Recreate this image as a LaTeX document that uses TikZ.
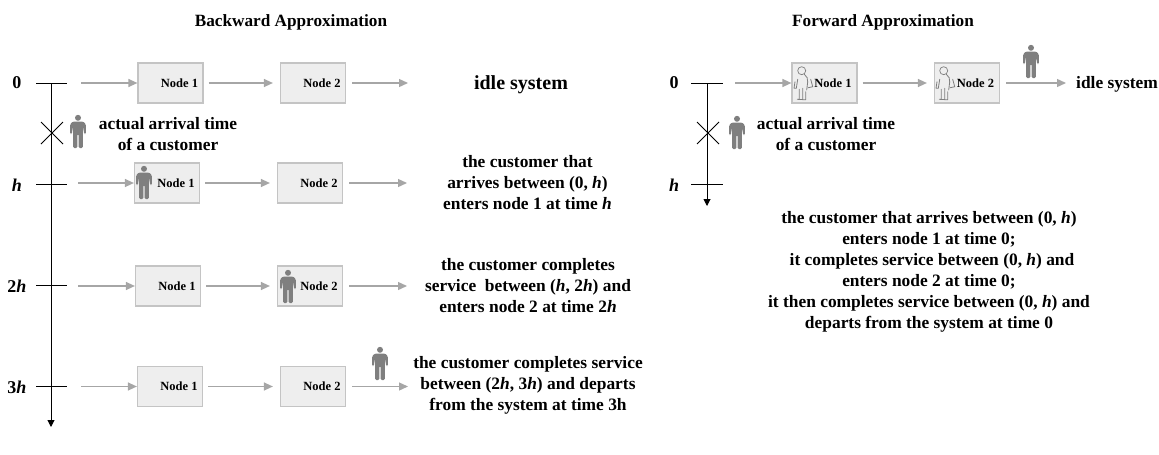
\documentclass[tikz,border=0pt]{standalone}
\usepackage{fontspec}
\setmainfont{Liberation Serif}
\usetikzlibrary{arrows.meta}
\definecolor{flowgray}{HTML}{A6A6A6}
\definecolor{boxfill}{HTML}{EEEEEE}
\definecolor{boxline}{HTML}{C4C4C4}
\definecolor{persongray}{HTML}{7F7F7F}
\newcommand{\bodyfont}{\fontsize{17.4}{21}\selectfont\bfseries}
\tikzset{
  x=1pt,y=-1pt,
  procbox/.style={draw=boxline,fill=boxfill,line width=1.2pt,minimum width=65pt,minimum height=40pt,inner sep=0pt,font=\fontsize{12.5}{14}\selectfont\bfseries,anchor=center},
  flow/.style={draw=flowgray,line width=1.3pt,-{Triangle[length=9pt,width=8pt]}},
  axisline/.style={draw=black,line width=1pt},
  timelabel/.style={font=\fontsize{18}{21}\selectfont\bfseries,inner sep=0pt},
  caption/.style={font=\bodyfont,align=center,inner sep=0pt},
  title/.style={font=\fontsize{17.2}{21}\selectfont\bfseries,inner sep=0pt},
  person/.pic={
    \fill[persongray] (0,2.8) circle (3);
    \fill[persongray,rounded corners=1.2pt] (-5,6.5) -- (-7.8,9) -- (-7.8,19) -- (-6.2,19) -- (-5,11.5) -- (-4.9,33) -- (-0.6,33) -- (-0.6,19) -- (0.6,19) -- (0.6,33) -- (4.9,33) -- (5,11.5) -- (6.2,19) -- (7.8,19) -- (7.8,9) -- (5,6.5) -- cycle;
  },
  outlineperson/.pic={
    \draw[persongray,line width=0.7pt] (-0.3,3.7) circle (4);
    \draw[persongray,line width=0.8pt,line cap=round]
      (2.3,7.3) .. controls (5,9) and (6,12) .. (5.7,15) -- (4.7,23)
      (-7,14.7) -- (-8,21.3) (-4.3,12.3) -- (-5.7,21.3) (-8,21.3) -- (-5.7,21.3)
      (8.7,12.3) -- (10.7,19.7) -- (6.3,20.7)
      (-2.7,22.3) -- (-2.7,32.3) (0.7,21.3) -- (0.7,32.3) (3.7,24.7) -- (3.7,32.3)
      (-4.7,32.3) -- (3.7,32.8);
  }
}
\begin{document}
\begin{tikzpicture}
\useasboundingbox (0,0) rectangle (1159,455);
\node[title] (t1) at (291,22) {Backward Approximation};
\node[title] (t2) at (883,22) {Forward Approximation};

% Backward axis
\coordinate (a0) at (51,83);
\coordinate (aend) at (51,427);
\draw[axisline,-{Triangle[length=7pt,width=7pt]}] (a0) -- (aend);
\foreach \yy/\nn in {83/z,184/a,285/b,386/c}{
  \coordinate (l\nn) at (36,\yy);
  \coordinate (r\nn) at (67,\yy);
  \draw[axisline] (l\nn) -- (r\nn);
}
\node[timelabel] (lz0) at (17,83) {0};
\node[timelabel] (la0) at (17,185) {\textit{h}};
\node[timelabel] (lb0) at (17,286) {2\textit{h}};
\node[timelabel] (lc0) at (17,387) {3\textit{h}};
\coordinate (x1a) at (41,122); \coordinate (x1b) at (63,144);
\coordinate (x1c) at (63,122); \coordinate (x1d) at (41,144);
\draw[axisline] (x1a) -- (x1b);
\draw[axisline] (x1c) -- (x1d);
\pic at (78,115) {person};
\node[caption] (cap1) at (168,134) {actual arrival time\\of a customer};

% Row 0
\node[procbox] (n01) at (170.5,83) {\hspace*{18pt}Node 1};
\node[procbox] (n02) at (313,83) {\hspace*{18pt}Node 2};
\coordinate (s0) at (81,83); \coordinate (e0) at (408,83);
\draw[flow] (s0) -- (n01.west);
\draw[flow,shorten <=5pt,shorten >=7pt] (n01.east) -- (n02.west);
\draw[flow,shorten <=6pt] (n02.east) -- (e0);
\node[caption,font=\fontsize{20}{24}\selectfont\bfseries] (c0) at (521,85) {idle system};

% Row h
\node[procbox] (n11) at (167,183) {\hspace*{18pt}Node 1};
\node[procbox] (n12) at (310,183) {\hspace*{18pt}Node 2};
\coordinate (s1) at (78,183); \coordinate (e1) at (407,183);
\draw[flow] (s1) -- (n11.west);
\draw[flow,shorten <=5pt,shorten >=7pt] (n11.east) -- (n12.west);
\draw[flow,shorten <=6pt] (n12.east) -- (e1);
\pic at (144,166) {person};
\node[caption] (c1) at (527.5,183) {the customer that\\arrives between (0, \textit{h})\\enters node 1 at time \textit{h}};

% Row 2h
\node[procbox] (n21) at (168,286) {\hspace*{18pt}Node 1};
\node[procbox] (n22) at (310,286) {\hspace*{18pt}Node 2};
\coordinate (s2) at (78,286); \coordinate (e2) at (407,286);
\draw[flow] (s2) -- (n21.west);
\draw[flow,shorten <=5pt,shorten >=7pt] (n21.east) -- (n22.west);
\draw[flow,shorten <=6pt] (n22.east) -- (e2);
\pic at (288,270) {person};
\node[caption] (c2) at (528,286) {the customer completes\\service \ between (\textit{h}, 2\textit{h}) and\\enters node 2 at time 2\textit{h}};

% Row 3h
\node[procbox] (n31) at (170,386.5) {\hspace*{18pt}Node 1};
\node[procbox] (n32) at (313,386.5) {\hspace*{18pt}Node 2};
\coordinate (s3) at (81,386.5); \coordinate (e3) at (408,386.5);
\draw[flow] (s3) -- (n31.west);
\draw[flow,shorten <=5pt,shorten >=7pt] (n31.east) -- (n32.west);
\draw[flow,shorten <=6pt] (n32.east) -- (e3);
\pic at (380,347) {person};
\node[caption] (c3) at (528,385.5) {the customer completes service\\between (2\textit{h}, 3\textit{h}) and departs\\from the system at time 3h};

% Forward axis
\coordinate (f0) at (707,83);
\coordinate (fend) at (707,206);
\draw[axisline,-{Triangle[length=7pt,width=7pt]}] (f0) -- (fend);
\coordinate (fl0) at (691,83); \coordinate (fr0) at (723,83);
\coordinate (fl1) at (691,184); \coordinate (fr1) at (723,184);
\draw[axisline] (fl0) -- (fr0);
\draw[axisline] (fl1) -- (fr1);
\node[timelabel] (fz) at (674,83) {0};
\node[timelabel] (fh) at (674,185) {\textit{h}};
\coordinate (x2a) at (697,122); \coordinate (x2b) at (719,144);
\coordinate (x2c) at (719,122); \coordinate (x2d) at (697,144);
\draw[axisline] (x2a) -- (x2b);
\draw[axisline] (x2c) -- (x2d);
\pic at (737,116) {person};
\node[caption] (cap2) at (826,134) {actual arrival time\\of a customer};

\node[procbox] (fn1) at (824.5,83) {\hspace*{17pt}Node 1};
\node[procbox] (fn2) at (967,83) {\hspace*{17pt}Node 2};
\coordinate (fs) at (735,83); \coordinate (fe) at (1066,83);
\draw[flow] (fs) -- (fn1.west);
\draw[flow,shorten <=5pt,shorten >=7pt] (fn1.east) -- (fn2.west);
\draw[flow,shorten <=6pt] (fn2.east) -- (fe);
\pic at (802,67) {outlineperson};
\pic at (944,67) {outlineperson};
\pic at (1031,45) {person};
\node[caption] (fc0) at (1117,84) {idle system};
\node[caption] (fc1) at (929,272) {the customer that arrives between (0, \textit{h})\\enters node 1 at time 0;\\\hspace*{6pt}it completes service between (0, \textit{h}) and\\enters node 2 at time 0;\\it then completes service between (0, \textit{h}) and\\departs from the system at time 0};
\end{tikzpicture}
\end{document}
